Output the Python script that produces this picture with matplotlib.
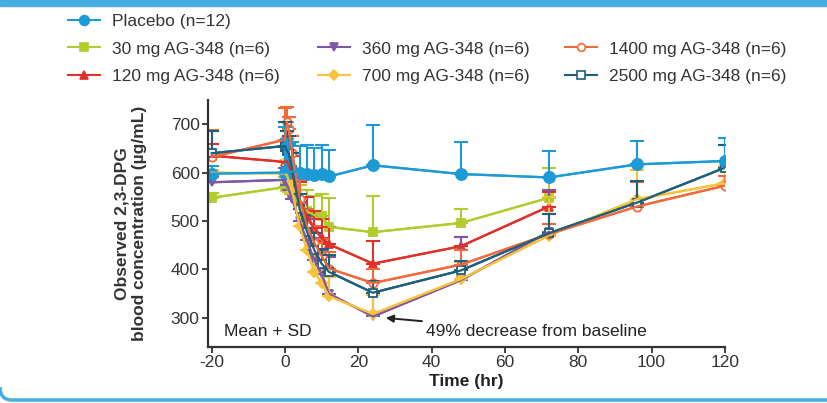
import matplotlib.pyplot as plt
from matplotlib.lines import Line2D
from matplotlib.patches import PathPatch, Rectangle
from matplotlib.path import Path

plt.rcParams['font.family'] = ['Liberation Sans', 'DejaVu Sans']
plt.rcParams['axes.unicode_minus'] = False

# time points (hr)
t_all = [-20, 0, 0.5, 1, 2, 4, 6, 8, 10, 12, 24, 48, 72, 96, 120]
t_72 = t_all[:13]

placebo = [598, 600, 605, 600, 603, 600, 598, 596, 597, 592, 615, 597, 590, 617, 624]
placebo_sd = [15, 95, 65, 60, 60, 55, 60, 55, 60, 55, 84, 67, 55, 48, 48]

mg30 = [548, 570, 568, 565, 555, 535, 520, 512, 510, 488, 477, 496, 548]
mg30_sd = [10, 20, 25, 30, 35, 40, 45, 40, 45, 60, 75, 28, 62]

mg120 = [635, 622, 625, 615, 595, 545, 510, 485, 465, 452, 412, 448, 530]
mg120_sd = [25, 30, 35, 30, 40, 35, 40, 35, 40, 35, 47, 20, 30]

mg360 = [580, 585, 575, 565, 545, 500, 460, 420, 390, 350, 303, 378, 478]
mg360_sd = [10, 25, 30, 30, 35, 40, 45, 45, 50, 75, 72, 89, 87]

mg700 = [600, 598, 595, 585, 560, 490, 440, 395, 372, 345, 308, 380, 470, 545, 578]
mg700_sd = [5, 25, 30, 30, 35, 40, 35, 40, 35, 40, 40, 35, 80, 60, 35]

mg1400 = [632, 668, 705, 690, 640, 545, 490, 455, 428, 402, 372, 410, 473, 530, 573]
mg1400_sd = [55, 65, 30, 25, 35, 40, 35, 35, 35, 35, 30, 30, 20, 50, 20]

mg2500 = [640, 655, 645, 640, 605, 525, 478, 440, 412, 395, 352, 398, 475, 538, 610]
mg2500_sd = [45, 50, 40, 35, 35, 30, 35, 35, 30, 35, 25, 20, 40, 45, 47]

c_pl = '#1b9ad6'
c_30 = '#b2cc2e'
c_120 = '#e0302b'
c_360 = '#7d58a8'
c_700 = '#f8c23a'
c_1400 = '#f2693a'
c_2500 = '#1e5f7c'

fig = plt.figure(figsize=(8.27, 4.03), dpi=100)
ax = fig.add_axes([0.2515, 0.139, 0.625, 0.613])

series = [
    (t_72, mg30, mg30_sd, c_30, 's', True, '30 mg AG-348 (n=6)'),
    (t_72, mg120, mg120_sd, c_120, '^', True, '120 mg AG-348 (n=6)'),
    (t_72, mg360, mg360_sd, c_360, 'v', True, '360 mg AG-348 (n=6)'),
    (t_all, mg700, mg700_sd, c_700, 'D', True, '700 mg AG-348 (n=6)'),
    (t_all, mg1400, mg1400_sd, c_1400, 'o', False, '1400 mg AG-348 (n=6)'),
    (t_all, mg2500, mg2500_sd, c_2500, 's', False, '2500 mg AG-348 (n=6)'),
    (t_all, placebo, placebo_sd, c_pl, 'o', True, 'Placebo (n=12)'),
]

handles = {}
for t, y, sd, col, mk, filled, lab in series:
    ms = 8 if lab.startswith('Placebo') else (5 if mk == 'D' else 6)
    ax.errorbar(t, y, yerr=[[0] * len(sd), sd], color=col, ecolor=col,
                elinewidth=1.5, capsize=5, capthick=1.5, lw=1.6)
    ax.plot(t, y, color=col, lw=1.6, marker=mk, ms=ms,
            mfc=col if filled else 'white', mec=col, mew=1.3)
    handles[lab] = Line2D([], [], color=col, lw=1.5, marker=mk,
                          ms=7 if lab.startswith('Placebo') else 5.5,
                          mfc=col if filled else 'white', mec=col, mew=1.2)

ax.set_xlim(-21, 120)
ax.set_ylim(240, 750)
ax.set_xticks([-20, 0, 20, 40, 60, 80, 100, 120])
ax.set_yticks([300, 400, 500, 600, 700])
for s in ['top', 'right']:
    ax.spines[s].set_visible(False)
for s in ['left', 'bottom']:
    ax.spines[s].set_color('#333333')
    ax.spines[s].set_linewidth(1.6)
ax.tick_params(direction='out', length=4, width=1.3, color='#333333',
               labelsize=12.5, labelcolor='#333333', pad=2)

ax.set_xlabel('Time (hr)', fontsize=12.5, fontweight='bold', color='#222222', labelpad=3)
ax.set_ylabel('Observed 2,3-DPG\nblood concentration (µg/mL)', fontsize=12.5,
              fontweight='bold', color='#333333', labelpad=17, linespacing=1.2)

ax.text(-16.5, 272, 'Mean + SD', fontsize=12.5, color='#222222', va='center')
ax.annotate('49% decrease from baseline', xy=(27.5, 300), xytext=(38.5, 272),
            fontsize=12.5, color='#222222', va='center',
            arrowprops=dict(arrowstyle='-|>', color='#222222', lw=1.4,
                            shrinkA=1, shrinkB=0, mutation_scale=11))

blank = Line2D([], [], color='none')
cols = [
    (0.082, ['Placebo (n=12)', '30 mg AG-348 (n=6)', '120 mg AG-348 (n=6)']),
    (0.384, [None, '360 mg AG-348 (n=6)', '700 mg AG-348 (n=6)']),
    (0.683, [None, '1400 mg AG-348 (n=6)', '2500 mg AG-348 (n=6)']),
]
for x0, labs in cols:
    hs = [handles[l] if l else blank for l in labs]
    ls = [l if l else ' ' for l in labs]
    fig.legend(hs, ls, loc='upper left', bbox_to_anchor=(x0, 0.966),
               frameon=False, fontsize=12.5, handlelength=1.85,
               handletextpad=0.7, labelspacing=0.72, borderpad=0,
               borderaxespad=0, labelcolor='#333333')

# frame decoration (inches)
fig.patches.append(Rectangle((0, 0.986), 1, 0.02, transform=fig.transFigure,
                             color='#45aee0', zorder=0))
frame = Path([(0.0, 0.16), (0.0, 0.03), (0.12, 0.03), (8.4, 0.03)],
             [Path.MOVETO, Path.CURVE3, Path.CURVE3, Path.LINETO])
fig.patches.append(PathPatch(frame, transform=fig.dpi_scale_trans, fill=False,
                             ec='#45aee0', lw=2.5, zorder=0))

fig.savefig('out.png', dpi=100)
